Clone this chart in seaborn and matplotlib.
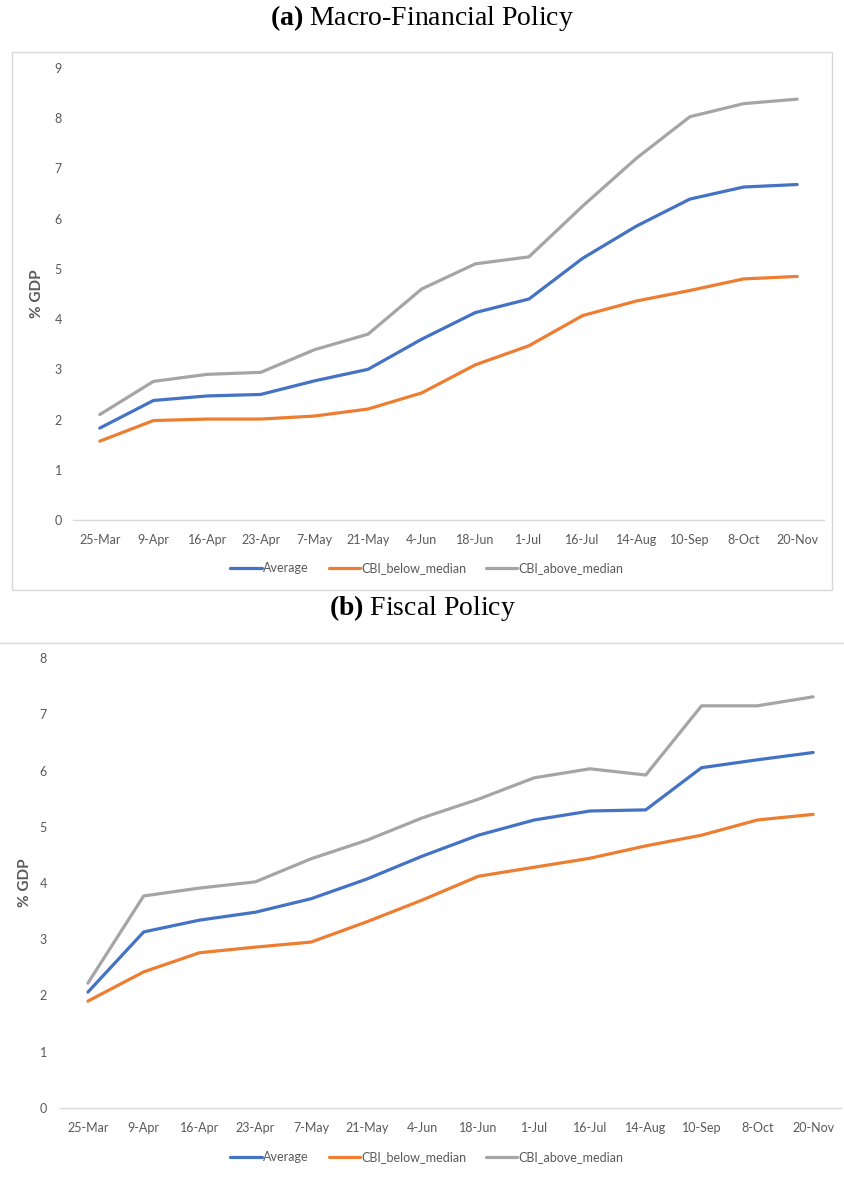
"""Two-panel line chart: macro-financial and fiscal policy response (% GDP)."""
import matplotlib
matplotlib.use("Agg")
import matplotlib.pyplot as plt
from matplotlib.patches import Rectangle
from matplotlib.lines import Line2D
import pandas as pd
import seaborn as sns

DATES = ["25-Mar", "9-Apr", "16-Apr", "23-Apr", "7-May", "21-May", "4-Jun",
         "18-Jun", "1-Jul", "16-Jul", "14-Aug", "10-Sep", "8-Oct", "20-Nov"]
SERIES = ["Average", "CBI_below_median", "CBI_above_median"]

# panel (a) Macro-Financial Policy
macro_average = [1.83, 2.38, 2.47, 2.50, 2.77, 3.00, 3.60, 4.13, 4.40, 5.21, 5.85, 6.39, 6.63, 6.68]
macro_below = [1.57, 1.98, 2.01, 2.01, 2.07, 2.21, 2.53, 3.09, 3.47, 4.07, 4.36, 4.57, 4.80, 4.85]
macro_above = [2.10, 2.76, 2.90, 2.94, 3.39, 3.70, 4.60, 5.10, 5.24, 6.25, 7.20, 8.03, 8.29, 8.38]

# panel (b) Fiscal Policy
fiscal_average = [2.06, 3.13, 3.34, 3.48, 3.72, 4.07, 4.48, 4.85, 5.12, 5.28, 5.30, 6.05, 6.19, 6.32]
fiscal_below = [1.90, 2.42, 2.76, 2.86, 2.95, 3.31, 3.70, 4.12, 4.28, 4.44, 4.66, 4.85, 5.12, 5.22]
fiscal_above = [2.22, 3.77, 3.91, 4.02, 4.43, 4.76, 5.16, 5.49, 5.87, 6.03, 5.92, 7.15, 7.15, 7.31]

COLORS = ["#4472C4", "#ED7D31", "#A5A5A5"]
TEXT = "#595959"
AXIS = "#D9D9D9"

W, H = 844, 1177


def long_frame(avg, below, above):
    return pd.DataFrame({
        "date": DATES * 3,
        "value": avg + below + above,
        "series": [s for s in SERIES for _ in DATES],
    })


def draw_panel(ax, data, ymax, ylabel_x, legend_y, ypad):
    sns.lineplot(data=data, x="date", y="value", hue="series", hue_order=SERIES,
                 palette=COLORS, linewidth=2.3, sort=False, ax=ax, legend=False)
    ax.set_xlim(-0.5, len(DATES) - 0.5)
    ax.set_ylim(0, ymax)
    ax.set_yticks(range(0, ymax + 1))
    ax.set_xlabel("")
    ax.set_ylabel("% GDP", fontsize=11, fontweight="bold", color=TEXT)
    ax.yaxis.set_label_coords(ylabel_x, 0.5)
    for side in ["top", "right", "left"]:
        ax.spines[side].set_visible(False)
    ax.spines["bottom"].set_color(AXIS)
    ax.spines["bottom"].set_linewidth(1.0)
    ax.tick_params(length=0, labelsize=9, labelcolor=TEXT)
    ax.tick_params(axis="x", pad=10)
    ax.tick_params(axis="y", pad=ypad)
    handles = [Line2D([], [], color=c, lw=2.3) for c in COLORS]
    ax.legend(handles, SERIES, loc="center", bbox_to_anchor=(0.506, legend_y),
              bbox_transform=ax.figure.transFigure, ncol=3, frameon=False,
              fontsize=9, labelcolor=TEXT, handlelength=2.5, handletextpad=0.1,
              columnspacing=1.6)


sns.set_theme(style="white")
plt.rcParams["font.family"] = ["Lato", "DejaVu Sans"]
plt.rcParams["mathtext.fontset"] = "custom"
plt.rcParams["mathtext.bf"] = "Liberation Serif:bold"
plt.rcParams["mathtext.rm"] = "Liberation Serif"

fig = plt.figure(figsize=(W / 100, H / 100), dpi=100)

# outer frame of panel (a) and separator line of panel (b)
fig.patches.append(Rectangle((12 / W, 1 - 590 / H), 820 / W, 538 / H,
                             transform=fig.transFigure, fill=False,
                             edgecolor=AXIS, linewidth=1.0))
fig.add_artist(Line2D([0, 1], [1 - 643 / H] * 2, transform=fig.transFigure,
                      color=AXIS, linewidth=1.0))

ax_a = fig.add_axes([73 / W, 1 - 520 / H, 751 / W, 452 / H])
draw_panel(ax_a, long_frame(macro_average, macro_below, macro_above), 9, -0.039,
           1 - 568 / H, 8)

ax_b = fig.add_axes([60 / W, 1 - 1108 / H, 781 / W, 450 / H])
draw_panel(ax_b, long_frame(fiscal_average, fiscal_below, fiscal_above), 8, -0.036,
           1 - 1157 / H, 9.5)

fig.text(0.5, 1 - 18 / H, r"$\mathbf{(a)}$ Macro-Financial Policy", ha="center",
         va="center", fontsize=20, family="Liberation Serif", color="black")
fig.text(0.5, 1 - 608 / H, r"$\mathbf{(b)}$ Fiscal Policy", ha="center",
         va="center", fontsize=20, family="Liberation Serif", color="black")

fig.savefig("out.png", dpi=100)
